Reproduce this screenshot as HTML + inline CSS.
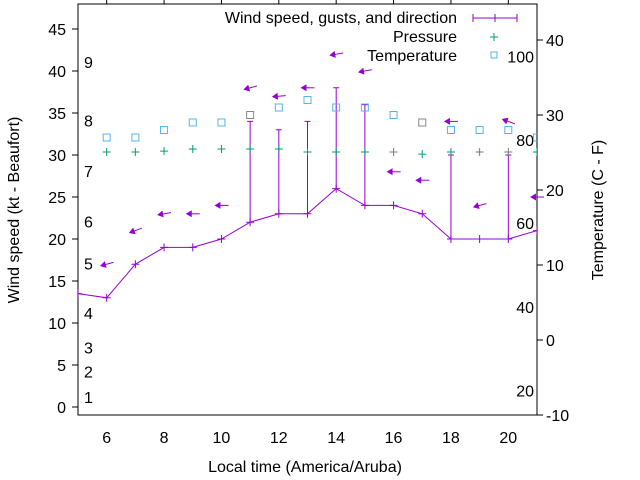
<!DOCTYPE html>
<html><head><meta charset="utf-8"><style>
html,body{margin:0;padding:0;background:#fff;}
svg{display:block;font-family:"Liberation Sans",sans-serif;}
</style></head><body>
<svg id="chart" width="640" height="480" viewBox="0 0 640 480" xmlns="http://www.w3.org/2000/svg">
<defs><clipPath id="plotclip"><rect x="78" y="4" width="459" height="411"/></clipPath></defs>
<rect x="78" y="4" width="459" height="411" fill="none" stroke="#000" stroke-width="1"/>
<g id="axes"></g>
<g id="marks" clip-path="url(#plotclip)"></g>
<g id="arrows"></g>
<text x="305" y="472" text-anchor="middle" font-size="16">Local time (America/Aruba)</text>
<text transform="translate(19,210) rotate(-90)" text-anchor="middle" font-size="16">Wind speed (kt - Beaufort)</text>
<text transform="translate(603,210) rotate(-90)" text-anchor="middle" font-size="16">Temperature (C - F)</text>
<g>
<text x="457" y="23" text-anchor="end" font-size="16">Wind speed, gusts, and direction</text>
<line x1="473" y1="18" x2="517" y2="18" stroke="#9400d3"/>
<line x1="473" y1="14" x2="473" y2="22" stroke="#9400d3"/><line x1="495" y1="14" x2="495" y2="22" stroke="#9400d3"/><line x1="517" y1="14" x2="517" y2="22" stroke="#9400d3"/>
<text x="457" y="42" text-anchor="end" font-size="16">Pressure</text>
<path d="M490 37h8M494 33v8" stroke="#009e73"/>
<text x="457" y="61" text-anchor="end" font-size="16">Temperature</text>
<rect x="491" y="52" width="6" height="6" fill="none" stroke="#56b4e9"/>
</g>
</svg>
<script>
const hours = [4,5,6,7,8,9,10,11,12,13,14,15,16,17,18,19,20,21];
const windSpeed = [14,13.5,13,17,19,19,20,22,23,23,26,24,24,23,20,20,20,21];
const gustHours = [11,12,13,14,15,18,20];
const gustValues = [34,33,34,38,36,30,30];
const arrowHours = [6,7,8,9,10,11,12,13,14,15,16,17,18,19,20,21];
const arrowLevel = [17,21,23,23,24,38,37,38,42,40,28,27,34,24,34,25];
const arrowAngle = [15,20,10,0,0,15,5,0,10,10,0,0,0,15,-20,0];
const obsHours = [6,7,8,9,10,11,12,13,14,15,16,17,18,19,20,21];
const tempC = [27,27,28,29,29,30,31,32,31,31,30,29,28,28,28,27];
const pressure = [1013,1013,1013.3,1014,1014,1014,1014,1013,1013,1013,1013,1012.3,1013,1013,1013,1013];
const xTicks = [6,8,10,12,14,16,18,20];
const yTicks = [0,5,10,15,20,25,30,35,40,45];
const y2Ticks = [-10,0,10,20,30,40];
const beaufortLabels = ["1","2","3","4","5","6","7","8","9"];
const beaufortLevels = [1.2,4.2,7.1,11.2,17.1,22.1,28.1,34.1,41.1];
const fahrenheitLabels = ["20","40","60","80","100"];
const fahrenheitC = [-6.7,4.4,15.6,26.7,37.8];

const NS="http://www.w3.org/2000/svg";
const X = h => 78 + (h-5)*(459/16);
const Y = v => 407 - v*8.4;
const Y2 = t => 415 - (t+10)*7.5;
const YP = p => 152 - (p-1013)*3;
function mk(tag, attrs, parent){const e=document.createElementNS(NS,tag);for(const k in attrs)e.setAttribute(k,attrs[k]);parent.appendChild(e);return e;}
const axes=document.getElementById('axes'), marks=document.getElementById('marks'), arrows=document.getElementById('arrows');

xTicks.forEach(h=>{
  const l=mk('line',{x1:X(h),x2:X(h),y1:0,y2:4,stroke:'#000'},axes);
  
  
  const t=mk('text',{x:X(h),y:443,'text-anchor':'middle','font-size':16},axes);
  t.textContent=h;
  
  
});
yTicks.forEach(v=>{
  const l=mk('line',{x1:72,x2:78,y1:Y(v),y2:Y(v),stroke:'#000'},axes);
  
  
  const t=mk('text',{x:66,y:Y(v)+6,'text-anchor':'end','font-size':16},axes);
  t.textContent=v;
  
  
});
y2Ticks.forEach(v=>{
  const l=mk('line',{x1:537,x2:543,y1:Y2(v),y2:Y2(v),stroke:'#000'},axes);
  
  
  const t=mk('text',{x:546,y:Y2(v)+6,'font-size':16},axes);
  t.textContent=v;
  
  
});
beaufortLabels.forEach((s,i)=>{
  const t=mk('text',{x:84,y:Y(beaufortLevels[i])+6,'font-size':16},axes);
  t.textContent=s;
  
  
});
fahrenheitLabels.forEach((s,i)=>{
  const t=mk('text',{x:534,y:Y2(fahrenheitC[i])+6,'text-anchor':'end','font-size':16},axes);
  t.textContent=s;
  
  
});

const pl=mk('polyline',{points:hours.map((h,i)=>X(h)+','+Y(windSpeed[i])).join(' '),fill:'none',stroke:'#9400d3','stroke-width':1},marks);


hours.forEach((h,i)=>{
  const p=mk('path',{d:`M${X(h)-4} ${Y(windSpeed[i])}h8M${X(h)} ${Y(windSpeed[i])-4}v8`,stroke:'#9400d3'},marks);
  
  
});
gustHours.forEach((h,i)=>{
  const w=windSpeed[hours.indexOf(h)];
  const p=mk('path',{d:`M${X(h)} ${Y(w)}V${Y(gustValues[i])}M${X(h)-3} ${Y(gustValues[i])}h6`,stroke:'#9400d3',fill:'none'},marks);
  
  
});
obsHours.forEach((h,i)=>{
  const gray=(h===16||h===19||h===20);
  const p=mk('path',{d:`M${X(h)-4} ${YP(pressure[i])}h8M${X(h)} ${YP(pressure[i])-4}v8`,stroke:gray?'#777':'#009e73'},marks);
  
  
  const g=(h===11||h===17);
  const r=mk('rect',{x:X(h)-3.5,y:Y2(tempC[i])-3.5,width:7,height:7,fill:'none',stroke:g?'#888':'#56b4e9'},marks);
  
  
});
arrowHours.forEach((h,i)=>{
  const g=mk('g',{transform:`translate(${X(h)},${Y(arrowLevel[i])}) rotate(${-arrowAngle[i]})`},arrows);
  
  
  mk('line',{x1:-5,y1:0,x2:7,y2:0,stroke:'#9400d3'},g);
  mk('path',{d:'M-7 0L-1 -3.5L-1 3.5Z',fill:'#9400d3'},g);
});
</script>
</body></html>
